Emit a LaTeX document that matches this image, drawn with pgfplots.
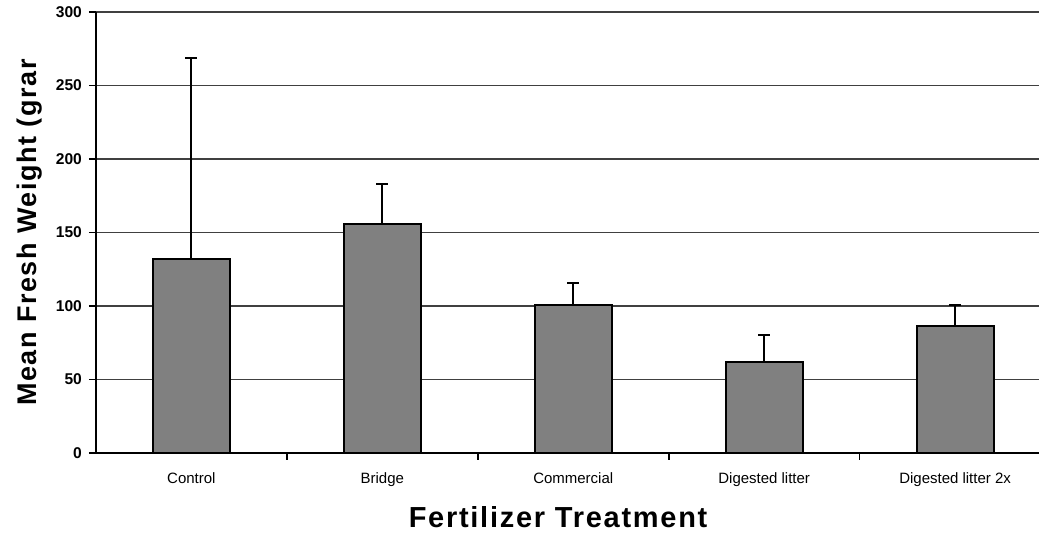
\documentclass[border=0pt]{standalone}
\usepackage{fontspec}
\setmainfont{Liberation Sans}
\usepackage{pgfplots}
\pgfplotsset{compat=1.18}
\begin{document}
\begin{tikzpicture}
\begin{axis}[
  at={(0,0)}, anchor=south west,
  scale only axis, width=472pt, height=220.5pt,
  xmin=-0.5, xmax=4.44, ymin=0, ymax=300,
  axis x line=bottom, axis y line=left,
  axis line style={-, black, line width=0.9pt},
  ytick={0,50,...,300},
  yticklabel style={font=\fontsize{7.8}{9}\selectfont\bfseries},
  ymajorgrids, grid style={black!75, line width=0.8pt},
  tick style={black, line width=0.8pt}, tick align=outside, major tick length=3.5pt,
  xtick={0.5,1.5,2.5,3.5}, xticklabels={},
  extra x ticks={0,1,2,3,4},
  extra x tick labels={Control,Bridge,Commercial,Digested litter,Digested litter 2x},
  extra x tick style={grid=none, major tick length=0pt,
    tick label style={font=\fontsize{7.5}{9}\selectfont, yshift=-6.5pt}},
  /pgf/number format/assume math mode=true,
  ylabel={\bfseries\addfontfeatures{LetterSpace=6}Mean Fresh Weight (grar},
  ylabel style={font=\fontsize{13.5}{15}\selectfont, at={(-33pt,0.5)}, anchor=center, yshift=0pt},
  xlabel={\bfseries\addfontfeatures{LetterSpace=6}Fertilizer Treatment},
  xlabel style={font=\fontsize{14.5}{16}\selectfont, at={(0.49,-32pt)}, anchor=center},
  clip=false,
]
\addplot[ybar, bar width=38.5pt, fill=black!50, draw=black, line width=1pt,
  error bars/.cd, y dir=plus, y explicit,
  error mark options={line width=1pt, mark size=3pt, rotate=90},
  error bar style={line width=1pt}]
  coordinates {
  (0,132) +- (0,136.5)
  (1,155.8) +- (0,27.2)
  (2,100.7) +- (0,14.9)
  (3,62) +- (0,18)
  (4,86.4) +- (0,14.3)
  };
\end{axis}
\path[use as bounding box] (-48pt,-39pt) rectangle (472pt,226.5pt);
\end{tikzpicture}
\end{document}
